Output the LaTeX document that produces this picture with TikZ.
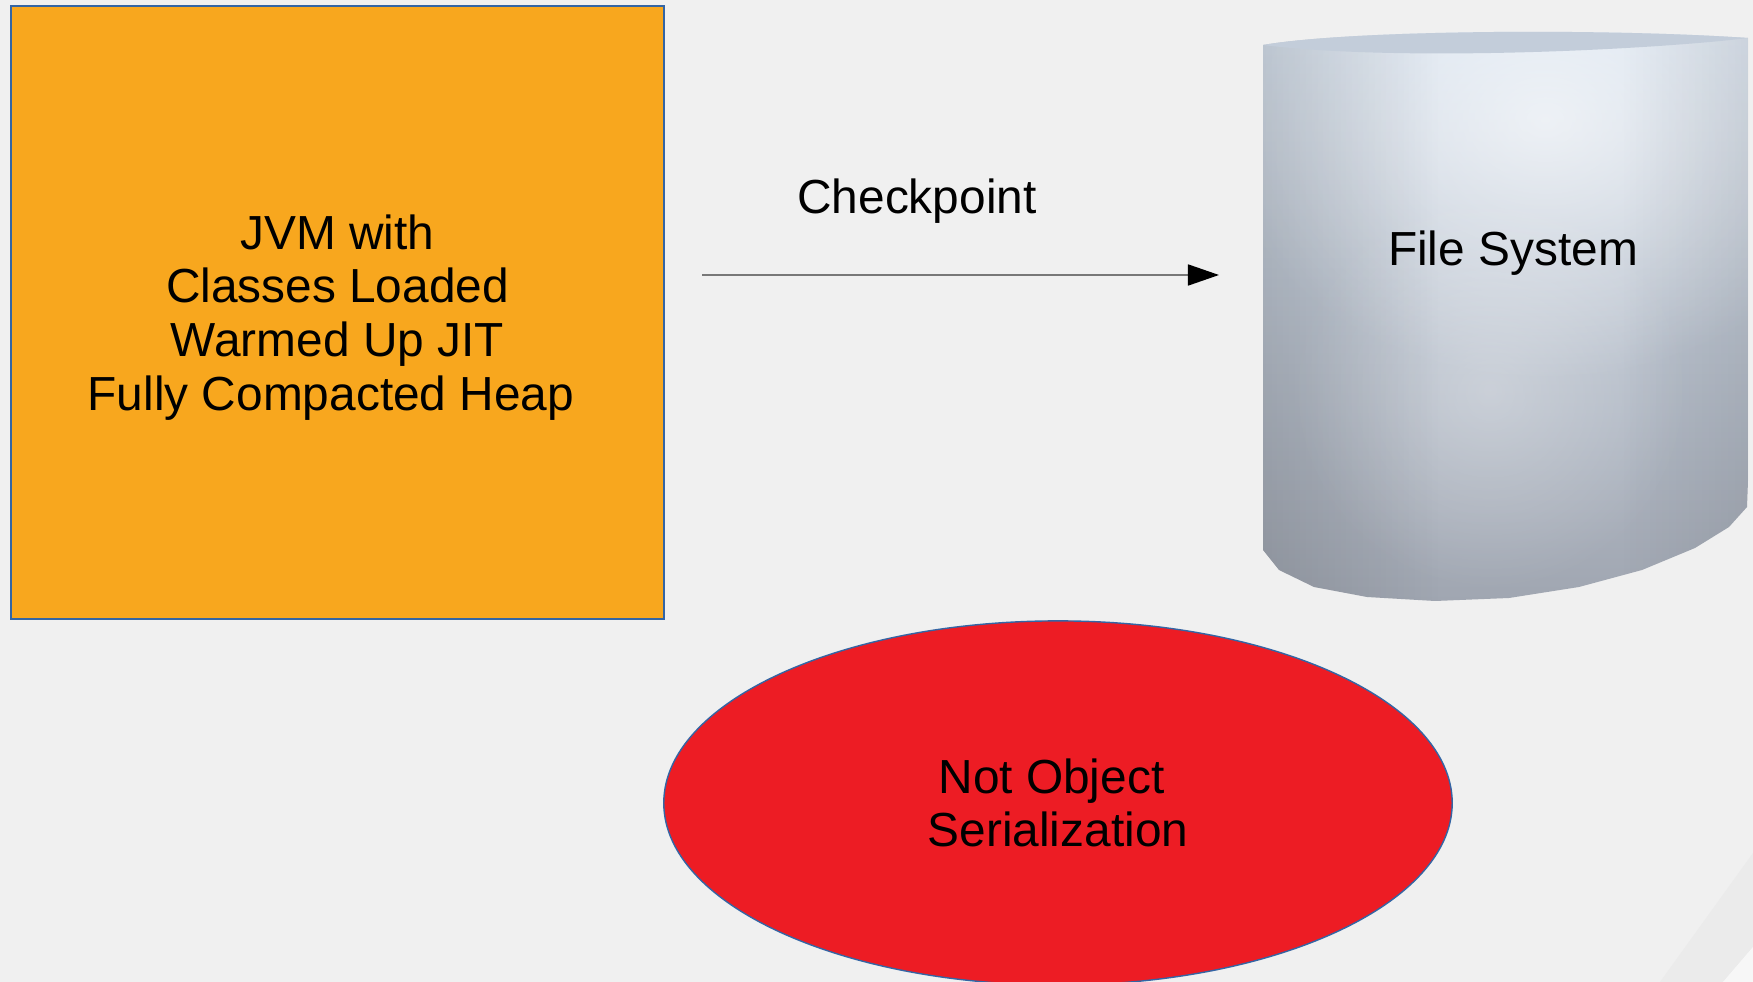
\documentclass[tikz,border=0pt]{standalone}
\usepackage{fontspec}
\setmainfont{Liberation Sans}
\usetikzlibrary{arrows.meta,shapes.geometric,fadings}
\definecolor{slidebg}{HTML}{F0F0F0}
\definecolor{jvmorange}{HTML}{F8A71E}
\definecolor{notred}{HTML}{ED1C24}
\definecolor{outline}{HTML}{3465A4}
\definecolor{fstop}{RGB}{214,225,238}
\definecolor{fsmid}{RGB}{203,208,216}
\definecolor{fsbot}{RGB}{160,166,177}
\definecolor{fslid}{RGB}{195,205,218}
\definecolor{arrowgray}{RGB}{120,120,120}
\tikzfading[name=fsglow,inner color=transparent!0,outer color=transparent!100]
\tikzfading[name=fsleft,left color=transparent!0,right color=transparent!100]
\tikzfading[name=fsright,left color=transparent!100,right color=transparent!0]
\begin{document}
\begin{tikzpicture}[x=0.01cm,y=-0.01cm,
        every node/.style={font=\fontsize{13.6}{15.3}\selectfont,align=center},
        jvmbox/.style={rectangle,draw=outline,line width=0.4pt,fill=jvmorange,minimum width=6.53cm,minimum height=6.13cm,inner sep=0pt},
        serblob/.style={ellipse,draw=outline,line width=0.4pt,fill=notred,minimum width=7.88cm,minimum height=3.64cm,inner sep=0pt},
        cparrow/.style={draw=arrowgray,line width=0.5pt,-{Triangle[length=0.31cm,width=0.21cm,black]}}]
        \clip (0,0) rectangle (1753,982);
        \fill[slidebg] (0,0) rectangle (1753,982);
        \fill[black!8] (1753,853) -- (1660,982) -- (1723,982) -- (1753,947) -- cycle;
        \fill[black!3] (1753,947) -- (1723,982) -- (1753,982) -- cycle;
        \begin{scope}
            \clip (1263,45) .. controls (1350,30) and (1600,28) .. (1748,38) -- (1748,481) -- (1747,507) -- (1729,527) -- (1695,548) -- (1642,570) -- (1579,587) -- (1509,598) -- (1435,601) -- (1367,597) -- (1314,587) -- (1279,570) -- (1263,550) -- cycle;
            \shade[top color=fstop,middle color=fsmid,bottom color=fsbot] (1263,30) rectangle (1750,601);
            \fill[white,opacity=0.65,path fading=fsglow] (1545,120) ellipse [x radius=330, y radius=260];
            \fill[white,opacity=0.3,path fading=fsglow] (1490,390) ellipse [x radius=200, y radius=200];
            \fill[black,opacity=0.12,path fading=fsleft] (1263,30) rectangle (1440,601);
            \fill[black,opacity=0.08,path fading=fsright] (1620,30) rectangle (1750,601);
            \fill[fslid] (1263,45) .. controls (1350,30) and (1600,28) .. (1748,38) .. controls (1650,50) and (1400,62) .. (1263,45) -- cycle;
        \end{scope}
        \node[jvmbox,label={[yshift=-0.05cm]center:JVM with\\Classes Loaded\\Warmed Up JIT\\Fully Compacted Heap\kern0.13cm}] (jvm) at (337.5,312.5) {};
        \node (fs) at (1513,253.5) {File System};
        \node[serblob] (ser) at (1058,803) {Not Object\kern0.13cm\\Serialization};
        \node (cplabel) at (917,201.5) {Checkpoint};
        \coordinate (cpfrom) at (702,275);
        \coordinate (cpto) at (1219,275);
        \draw[cparrow] (cpfrom) -- (cpto);
    \end{tikzpicture}
\end{document}
